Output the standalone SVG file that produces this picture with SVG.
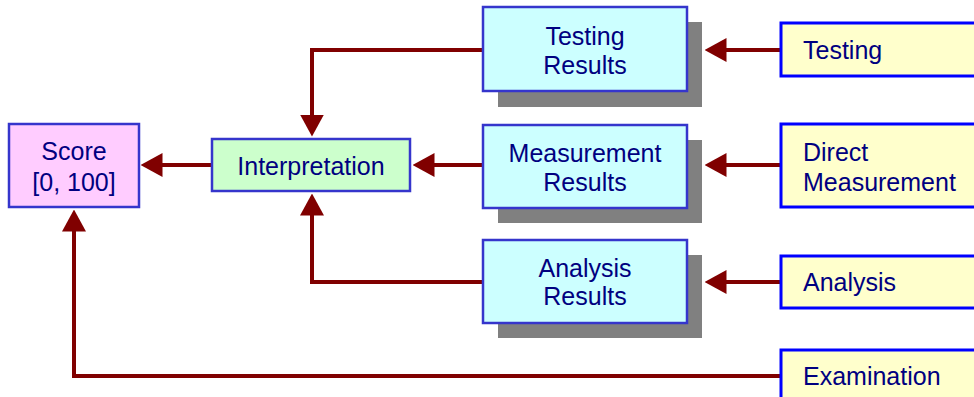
<svg xmlns="http://www.w3.org/2000/svg" width="974" height="397" viewBox="0 0 974 397">
<style>
text{font-family:"Liberation Sans",Arial,sans-serif;font-size:25px;fill:#000080}
.c{text-anchor:middle}
.res{fill:#ccffff;stroke:#3535cc;stroke-width:2.5}
.src{fill:#ffffcc;stroke:#0000ff;stroke-width:3}
.sh{fill:#808080}
.con{fill:none;stroke:#800000;stroke-width:4;marker-end:url(#ah)}
</style>
<defs>
<marker id="ah" markerUnits="userSpaceOnUse" viewBox="0 0 22 24" refX="0.5" refY="12" markerWidth="22" markerHeight="24" orient="auto">
<path d="M0,0 L22,12 L0,24 z" fill="#800000"/>
</marker>
</defs>
<rect width="974" height="397" fill="#fff"/>
<g id="connectors">
<path class="con" d="M781,50 H726"/>
<path class="con" d="M781,165 H726"/>
<path class="con" d="M781,282 H726"/>
<path class="con" d="M483,50 H312 V115"/>
<path class="con" d="M483,165 H434"/>
<path class="con" d="M483,282 H312 V215"/>
<path class="con" d="M212,165 H162"/>
<path class="con" d="M781,376 H74 V231"/>
</g>
<g id="score">
<rect x="9" y="124" width="130" height="83" fill="#ffccff" stroke="#3535cc" stroke-width="2.5"/>
<text class="c" x="74" y="160">Score</text>
<text class="c" x="74" y="191">[0, 100]</text>
</g>
<g id="interpretation">
<rect x="212" y="139" width="198" height="52" fill="#ccffcc" stroke="#3535cc" stroke-width="2.5"/>
<text class="c" x="311" y="175">Interpretation</text>
</g>
<g id="testing-results">
<rect class="sh" x="498" y="22" width="204" height="85"/>
<rect class="res" x="483" y="7" width="204" height="84"/>
<text class="c" x="585" y="45">Testing</text>
<text class="c" x="585" y="74">Results</text>
</g>
<g id="measurement-results">
<rect class="sh" x="498" y="140" width="204" height="83"/>
<rect class="res" x="483" y="125" width="204" height="83"/>
<text class="c" x="585" y="162">Measurement</text>
<text class="c" x="585" y="191">Results</text>
</g>
<g id="analysis-results">
<rect class="sh" x="498" y="255" width="204" height="83"/>
<rect class="res" x="483" y="240" width="204" height="83"/>
<text class="c" x="585" y="277">Analysis</text>
<text class="c" x="585" y="305">Results</text>
</g>
<g id="testing">
<rect class="src" x="781" y="23" width="220" height="53"/>
<text x="803" y="59">Testing</text>
</g>
<g id="direct-measurement">
<rect class="src" x="781" y="124" width="220" height="83"/>
<text x="803" y="161">Direct</text>
<text x="803" y="191">Measurement</text>
</g>
<g id="analysis">
<rect class="src" x="781" y="256" width="220" height="52"/>
<text x="803" y="291">Analysis</text>
</g>
<g id="examination">
<rect class="src" x="781" y="350" width="220" height="60"/>
<text x="803" y="385">Examination</text>
</g>
</svg>
